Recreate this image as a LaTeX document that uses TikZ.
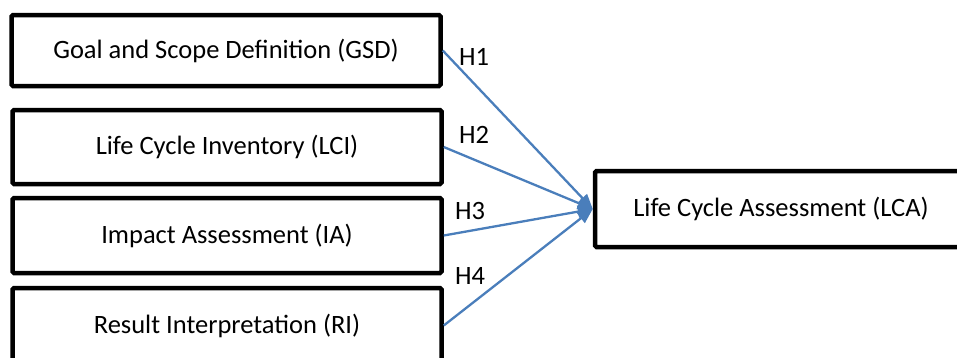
\documentclass[tikz,border=0pt]{standalone}
\usepackage{fontspec}
\setmainfont{Carlito}
\usetikzlibrary{arrows.meta}
\definecolor{linkblue}{HTML}{4A7EBB}
\begin{document}
\begin{tikzpicture}[x=1pt,y=-1pt,
  stagebox/.style={draw=black,line width=4.5pt,rounded corners=1.5pt,fill=white,
    inner sep=0pt,minimum width=429pt,font=\fontsize{26.5}{31}\selectfont},
  hlink/.style={draw=linkblue,line width=2.3pt,-{Triangle[length=15pt,width=12pt]}},
  hlabel/.style={font=\fontsize{26.5}{31}\selectfont,inner sep=0pt}]
\useasboundingbox (0,0) rectangle (957,357);
\clip (0,0) rectangle (957,357);
\node[stagebox,minimum height=71pt] (gsd) at (226,50.5) {Goal and Scope Definition (GSD)};
\node[stagebox,minimum height=74pt] (lci) at (227,147) {Life Cycle Inventory (LCI)};
\node[stagebox,minimum height=75pt] (ia)  at (227,235.5) {Impact Assessment (IA)};
\node[stagebox,minimum height=75pt] (ri)  at (227,325.5) {Result Interpretation (RI)};
\node[stagebox,minimum width=372pt,minimum height=76pt] (lca) at (781,209) {Life Cycle Assessment (LCA)};
\draw[hlink] (gsd.east) -- (lca.west);
\draw[hlink] (lci.east) -- (lca.west);
\draw[hlink] (ia.east) -- (lca.west);
\draw[hlink] (ri.east) -- (lca.west);
\node[hlabel] (h1) at (474,57) {H1};
\node[hlabel] (h2) at (474,135) {H2};
\node[hlabel] (h3) at (470,211) {H3};
\node[hlabel] (h4) at (470,276) {H4};
\end{tikzpicture}
\end{document}
